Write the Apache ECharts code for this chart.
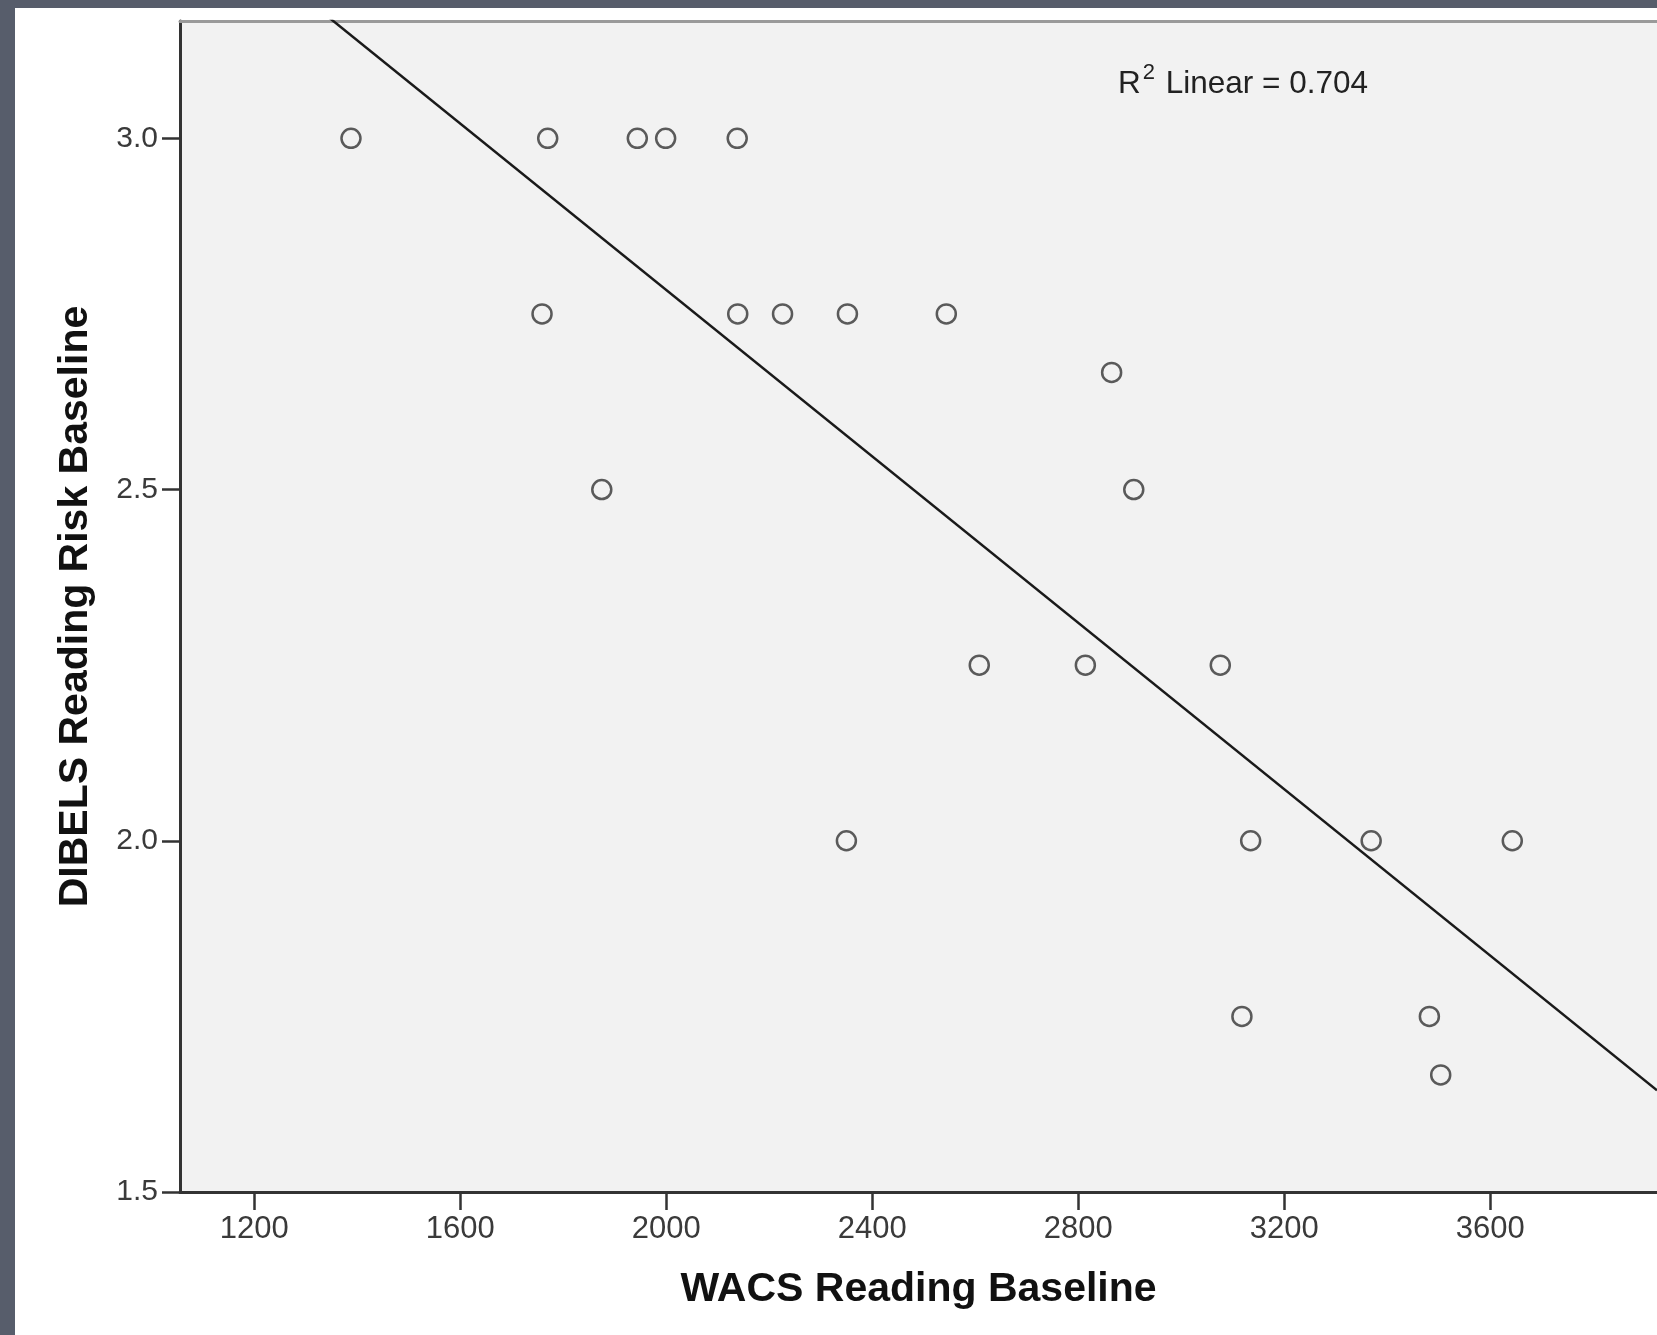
<!DOCTYPE html>
<html><head><meta charset="utf-8">
<script src="https://cdn.jsdelivr.net/npm/echarts@6/dist/echarts.min.js"></script>
<style>
html,body{margin:0;padding:0;width:1657px;height:1335px;overflow:hidden;background:#575d6b;}
#panel{position:absolute;left:15px;top:8px;width:1642px;height:1327px;background:#ffffff;}
#chart{width:1642px;height:1327px;}
</style></head><body>
<div id="panel"><div id="chart"></div></div>
<script>
// WACS Reading Baseline (x) and DIBELS Reading Risk Baseline (y)
const wacsReading = [1388, 1770, 1944, 1999, 2138, 1759, 2139, 2226, 2352, 2544, 2865, 1875, 2908, 2608, 2814, 3076, 2350, 3135, 3369, 3643, 3118, 3482, 3504];
const dibelsRisk  = [3.0, 3.0, 3.0, 3.0, 3.0, 2.75, 2.75, 2.75, 2.75, 2.75, 2.6667, 2.5, 2.5, 2.25, 2.25, 2.25, 2.0, 2.0, 2.0, 2.0, 1.75, 1.75, 1.6667];
const xTickValues = [1200, 1600, 2000, 2400, 2800, 3200, 3600];
const yTickValues = [1.5, 2.0, 2.5, 3.0];
const xRange = [1056, 3924];
const yRange = [1.5, 3.167];
const xTitle = 'WACS Reading Baseline';
const yTitle = 'DIBELS Reading Risk Baseline';
const r2Text = '0.704';

const FONT = 'Liberation Sans';
const points = wacsReading.map((x, i) => [x, dibelsRisk[i]]);

// least-squares fit line from the data
const n = points.length;
const mx = wacsReading.reduce((a, b) => a + b, 0) / n;
const my = dibelsRisk.reduce((a, b) => a + b, 0) / n;
let sxy = 0, sxx = 0;
for (let i = 0; i < n; i++) {
  sxy += (wacsReading[i] - mx) * (dibelsRisk[i] - my);
  sxx += (wacsReading[i] - mx) * (wacsReading[i] - mx);
}
const slope = sxy / sxx;
const intercept = my - slope * mx;
const fitLine = xRange.map(x => [x, intercept + slope * x]);

const chart = echarts.init(document.getElementById('chart'), null, {renderer: 'canvas'});
chart.setOption({
  animation: false,
  grid: {
    left: 165, top: 13, right: 0, bottom: 143,
    show: true, backgroundColor: '#f2f2f2', borderWidth: 0
  },
  xAxis: [{
    type: 'value', min: xRange[0], max: xRange[1],
    axisLine: {show: true, onZero: false, lineStyle: {color: '#333', width: 3}},
    axisTick: {show: true, length: 18, customValues: xTickValues, lineStyle: {color: '#333', width: 2.5}},
    axisLabel: {customValues: xTickValues, fontSize: 31, color: '#3a3a3a', margin: 22, fontFamily: FONT,
      formatter: v => String(v)},
    splitLine: {show: false},
    name: xTitle, nameLocation: 'middle', nameGap: 77,
    nameTextStyle: {fontSize: 41, fontWeight: 'bold', color: '#111', fontFamily: FONT}
  }, {
    type: 'value', position: 'top', min: xRange[0], max: xRange[1],
    axisLine: {show: true, onZero: false, lineStyle: {color: '#9a9a9a', width: 3}},
    axisTick: {show: false}, axisLabel: {show: false}, splitLine: {show: false}
  }],
  yAxis: {
    type: 'value', min: yRange[0], max: yRange[1],
    axisLine: {show: true, onZero: false, lineStyle: {color: '#333', width: 3}},
    axisTick: {show: true, length: 18, customValues: yTickValues, lineStyle: {color: '#333', width: 2.5}},
    axisLabel: {customValues: yTickValues, fontSize: 30, color: '#3a3a3a', margin: 22, fontFamily: FONT,
      formatter: v => Number(v).toFixed(1)},
    splitLine: {show: false},
    name: yTitle, nameLocation: 'middle', nameGap: 84, nameRotate: 90,
    nameTextStyle: {fontSize: 41, fontWeight: 'bold', color: '#111', fontFamily: FONT}
  },
  graphic: [{
    type: 'text', left: 1103, top: 54, silent: true,
    style: {
      text: '{m|R}{s|2}{m| Linear = ' + r2Text + '}',
      rich: {
        m: {fontSize: 31.5, fontFamily: FONT, fill: '#222', lineHeight: 38, verticalAlign: 'bottom'},
        s: {fontSize: 22, fontFamily: FONT, fill: '#222', lineHeight: 38, verticalAlign: 'top', padding: [0, 2, 0, 2]}
      }
    }
  }],
  series: [
    {
      type: 'line', data: fitLine, showSymbol: false, silent: true, clip: true,
      lineStyle: {color: '#1a1a1a', width: 2.5}, z: 2
    },
    {
      type: 'scatter', data: points, symbol: 'circle', symbolSize: 19, silent: true,
      itemStyle: {color: 'rgba(0,0,0,0)', borderColor: '#333', borderWidth: 2.5}, z: 3
    }
  ]
});
</script>
</body></html>
